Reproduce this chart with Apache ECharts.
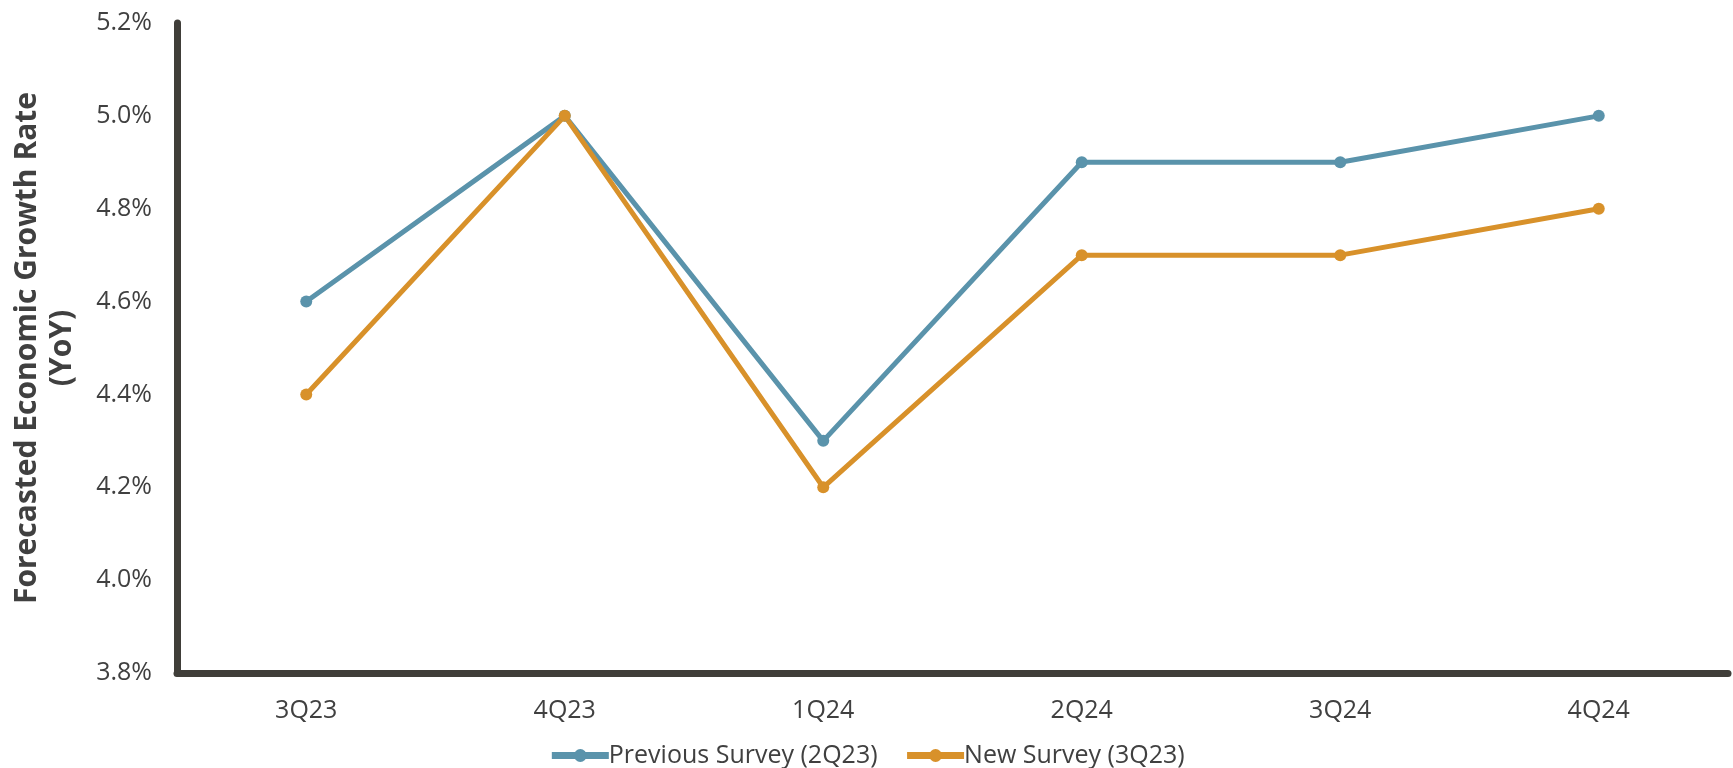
<!DOCTYPE html>
<html>
<head>
<meta charset="utf-8">
<script src="https://cdn.jsdelivr.net/npm/echarts@6/dist/echarts.min.js"></script>
<style>html,body{margin:0;padding:0;background:#fff;}#chart{width:1733px;height:768px;}</style>
</head>
<body>
<div id="chart"></div>
<script>
const categories = ['3Q23', '4Q23', '1Q24', '2Q24', '3Q24', '4Q24'];
const previousSurvey = [4.6, 5.0, 4.3, 4.9, 4.9, 5.0];
const newSurvey = [4.4, 5.0, 4.2, 4.7, 4.7, 4.8];
const seriesNames = ['Previous Survey (2Q23)', 'New Survey (3Q23)'];
const yAxisTitle = 'Forecasted Economic Growth Rate\n(YoY)';

const chart = echarts.init(document.getElementById('chart'));
const textColor = '#404040';
const axisColor = '#403e39';
const font = 'Open Sans';
chart.setOption({
  animation: false,
  textStyle: { fontFamily: font },
  grid: { left: 177, right: 5, top: 23, bottom: 95, containLabel: false, outerBoundsMode: 'none' },
  legend: {
    top: 738,
    left: 'center',
    itemWidth: 57,
    itemHeight: 16,
    itemGap: 26,
    lineStyle: { width: 7 },
    textStyle: { fontFamily: font, fontSize: 25, color: textColor, padding: [0, 0, 0, -5] },
    data: seriesNames
  },
  xAxis: {
    type: 'category',
    data: categories,
    boundaryGap: true,
    axisLine: { lineStyle: { color: axisColor, width: 7 } },
    axisTick: { show: false },
    axisLabel: { fontFamily: font, fontSize: 25, color: textColor, margin: 25 }
  },
  yAxis: {
    type: 'value',
    min: 3.8,
    max: 5.2,
    interval: 0.2,
    name: yAxisTitle,
    nameLocation: 'middle',
    nameGap: 97,
    nameTextStyle: { fontFamily: font, fontSize: 30, fontWeight: 'bold', color: textColor, lineHeight: 35 },
    axisLine: { show: true, lineStyle: { color: axisColor, width: 7 } },
    axisTick: { show: false },
    splitLine: { show: false },
    axisLabel: {
      fontFamily: font, fontSize: 25, color: textColor, margin: 25,
      formatter: v => v.toFixed(1) + '%'
    }
  },
  series: [
    {
      name: seriesNames[0], type: 'line', data: previousSurvey,
      symbol: 'circle', symbolSize: 12,
      lineStyle: { width: 5, color: '#5a93ab' },
      itemStyle: { color: '#5a93ab' }
    },
    {
      name: seriesNames[1], type: 'line', data: newSurvey,
      symbol: 'circle', symbolSize: 12,
      lineStyle: { width: 5, color: '#d8912a' },
      itemStyle: { color: '#d8912a' }
    }
  ]
});
</script>
</body>
</html>
